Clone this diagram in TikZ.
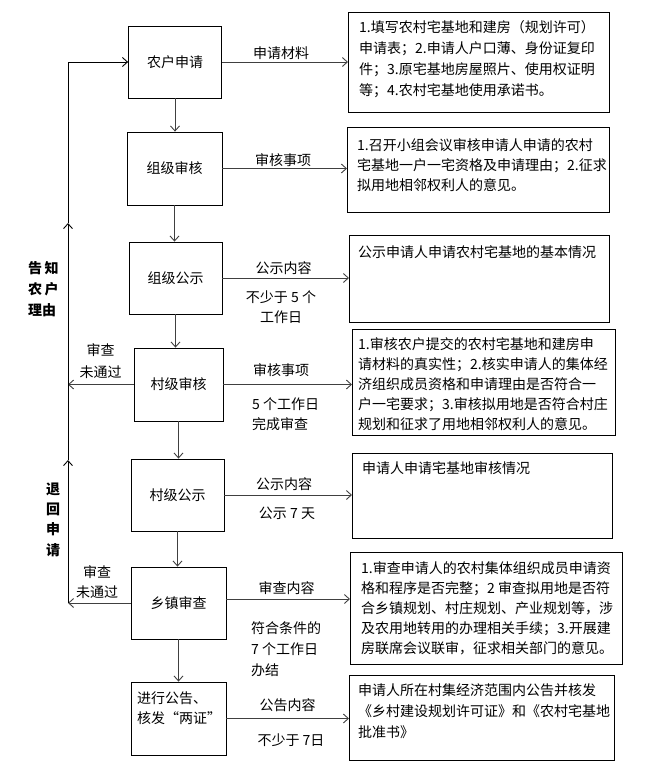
\documentclass[tikz,border=0pt]{standalone}
\usepackage{fontspec}
\setmainfont{Noto Sans CJK SC}
\usetikzlibrary{arrows.meta}
\begin{document}
\begin{tikzpicture}[x=1pt,y=-1pt,
  box/.style={draw=black, line width=0.8pt, inner sep=0pt, font=\fontsize{14}{20}\selectfont},
  conn/.style={draw=black!75, line width=0.9pt},
  arr/.style={conn, -{Straight Barb[length=5pt,width=9pt]}},
  txt/.style={font=\fontsize{14}{20.5}\selectfont, inner sep=0pt},
  bold/.style={font=\fontsize{14}{21}\selectfont\bfseries, inner sep=0pt}
]
\useasboundingbox (0,0) rectangle (655,772);

% left column boxes
\node[box, minimum width=93pt, minimum height=72pt] (b1) at (175,62) {农户申请};
\node[box, minimum width=95pt, minimum height=73pt] (b2) at (174.5,168.5) {组级审核};
\node[box, minimum width=93pt, minimum height=72pt] (b3) at (175.5,278) {组级公示};
\node[box, minimum width=89pt, minimum height=73pt] (b4) at (178.5,384.5) {村级审核};
\node[box, minimum width=93pt, minimum height=72pt] (b5) at (177.5,495) {村级公示};
\node[box, minimum width=95pt, minimum height=72pt] (b6) at (178.5,603) {乡镇审查};
\node[box, minimum width=95pt, minimum height=73pt] (b7) at (178.5,718.5) {};
\node[txt, align=left] (t7) at (179,708) {进行公告、\\核发“两证”};

% right column boxes
\node[box, anchor=north west, minimum width=261pt, minimum height=100pt] (r1) at (348,12) {};
\node[box, anchor=north west, minimum width=262pt, minimum height=85pt] (r2) at (347,127) {};
\node[box, anchor=north west, minimum width=260pt, minimum height=87pt] (r3) at (349,235) {};
\node[box, anchor=north west, minimum width=263pt, minimum height=106pt] (r4) at (352,329) {};
\node[box, anchor=north west, minimum width=260pt, minimum height=85pt] (r5) at (352,453) {};
\node[box, anchor=north west, minimum width=272pt, minimum height=112pt] (r6) at (350,552) {};
\node[box, anchor=north west, minimum width=265pt, minimum height=85pt] (r7) at (349,675) {};

% right box texts (base anchor = baseline of last line)
\node[txt, anchor=base west, align=left, font=\fontsize{14}{21}\selectfont] (rt1) at (359,95.5)
 {1.填写农村宅基地和建房（规划许可）\\申请表；2.申请人户口薄、身份证复印\\件；3.原宅基地房屋照片、使用权证明\\等；4.农村宅基地使用承诺书。};
\node[txt, anchor=base west, align=left, font=\fontsize{14}{20}\selectfont] (rt2) at (357,190.5)
 {1.召开小组会议审核申请人申请的农村\\宅基地一户一宅资格及申请理由；2.征求\\拟用地相邻权利人的意见。};
\node[txt, anchor=base west, align=left] (rt3) at (358,257.5)
 {公示申请人申请农村宅基地的基本情况};
\node[txt, anchor=base west, align=left, font=\fontsize{14}{20}\selectfont] (rt4) at (358,429.5)
 {1.审核农户提交的农村宅基地和建房申\\请材料的真实性；2.核实申请人的集体经\\济组织成员资格和申请理由是否符合一\\户一宅要求；3.审核拟用地是否符合村庄\\规划和征求了用地相邻权利人的意见。};
\node[txt, anchor=base west, align=left] (rt5) at (362,473.5)
 {申请人申请宅基地审核情况};
\node[txt, anchor=base west, align=left, font=\fontsize{14}{20}\selectfont] (rt6) at (361,653.5)
 {1.审查申请人的农村集体组织成员申请资\\格和程序是否完整；2 审查拟用地是否符\\合乡镇规划、村庄规划、产业规划等，涉\\及农用地转用的办理相关手续；3.开展建\\房联席会议联审，征求相关部门的意见。};
\node[txt, anchor=base west, align=left, font=\fontsize{14}{21}\selectfont] (rt7) at (358,737.5)
 {申请人所在村集经济范围内公告并核发\\《乡村建设规划许可证》和《农村宅基地\\批准书》};

% vertical flow
\draw[arr] (b1.south) -- (b1.south |- b2.north);
\draw[arr] (b2.south) -- (b2.south |- b3.north);
\draw[arr] (b3.south) -- (b3.south |- b4.north);
\draw[arr] (b4.south) -- (b4.south |- b5.north);
\draw[arr] (b5.south) -- (b5.south |- b6.north);
\draw[arr] (b6.south) -- (b6.south |- b7.north);

% horizontal to right boxes
\draw[arr] (b1.east) -- (b1.east -| r1.west);
\draw[arr] (b2.east) -- (b2.east -| r2.west);
\draw[arr] (b3.east) -- (b3.east -| r3.west);
\draw[arr] (b4.east) -- (b4.east -| r4.west);
\draw[arr] (b5.east) -- (b5.east -| r5.west);
\draw[arr] ([yshift=4pt]b6.east) -- ([yshift=4pt]b6.east -| r6.west);
\draw[arr] (b7.east) -- (b7.east -| r7.west);

% arrow labels
\node[txt] (l1) at (281,53) {申请材料};
\node[txt] (l2) at (283,160) {审核事项};
\node[txt] (l3) at (283.5,268) {公示内容};
\node[txt, align=center, font=\fontsize{14}{20}\selectfont] (d3) at (281,307) {不少于 5 个\\工作日};
\node[txt] (l4) at (281,370) {审核事项};
\node[txt, anchor=west, align=left, font=\fontsize{14}{20}\selectfont] (d4) at (252,414) {5 个工作日\\完成审查};
\node[txt] (l5) at (284,484) {公示内容};
\node[txt] (d5) at (287,513) {公示 7 天};
\node[txt] (l6) at (286.5,588) {审查内容};
\node[txt, anchor=west, align=left, font=\fontsize{14}{21}\selectfont] (d6) at (251,649) {符合条件的\\7 个工作日\\办结};
\node[txt] (l7) at (287.5,705) {公告内容};
\node[txt] (d7) at (291,740) {不少于 7日};

% return path
\coordinate (c6) at (68,603);
\coordinate (c4) at (68,384.5);
\coordinate (up2) at (68,460);
\coordinate (up1) at (68,223);
\coordinate (top) at (68,62);
\draw[arr] (b6.west) -- (c6);
\draw[arr] (b4.west) -- (c4);
\draw[arr, draw=black] (c6) -- (up2);
\draw[conn, draw=black] (up2) -- (c4);
\draw[arr, draw=black] (c4) -- (up1);
\draw[arr, draw=black] (up1) -- (top) -- (b1.west);

% left labels
\node[txt, align=center, font=\fontsize{14}{22}\selectfont] (n4) at (100.5,361) {审查\\未通过};
\node[txt, align=center, font=\fontsize{14}{20}\selectfont] (n6) at (97,582) {审查\\未通过};
\node[bold, anchor=west, align=left] (k1) at (28,289) {告\,知\\农\,户\\理由};
\node[bold, align=center, font=\fontsize{14}{20.3}\selectfont\bfseries] (k2) at (53,519.5) {退\\回\\申\\请};
\end{tikzpicture}
\end{document}
